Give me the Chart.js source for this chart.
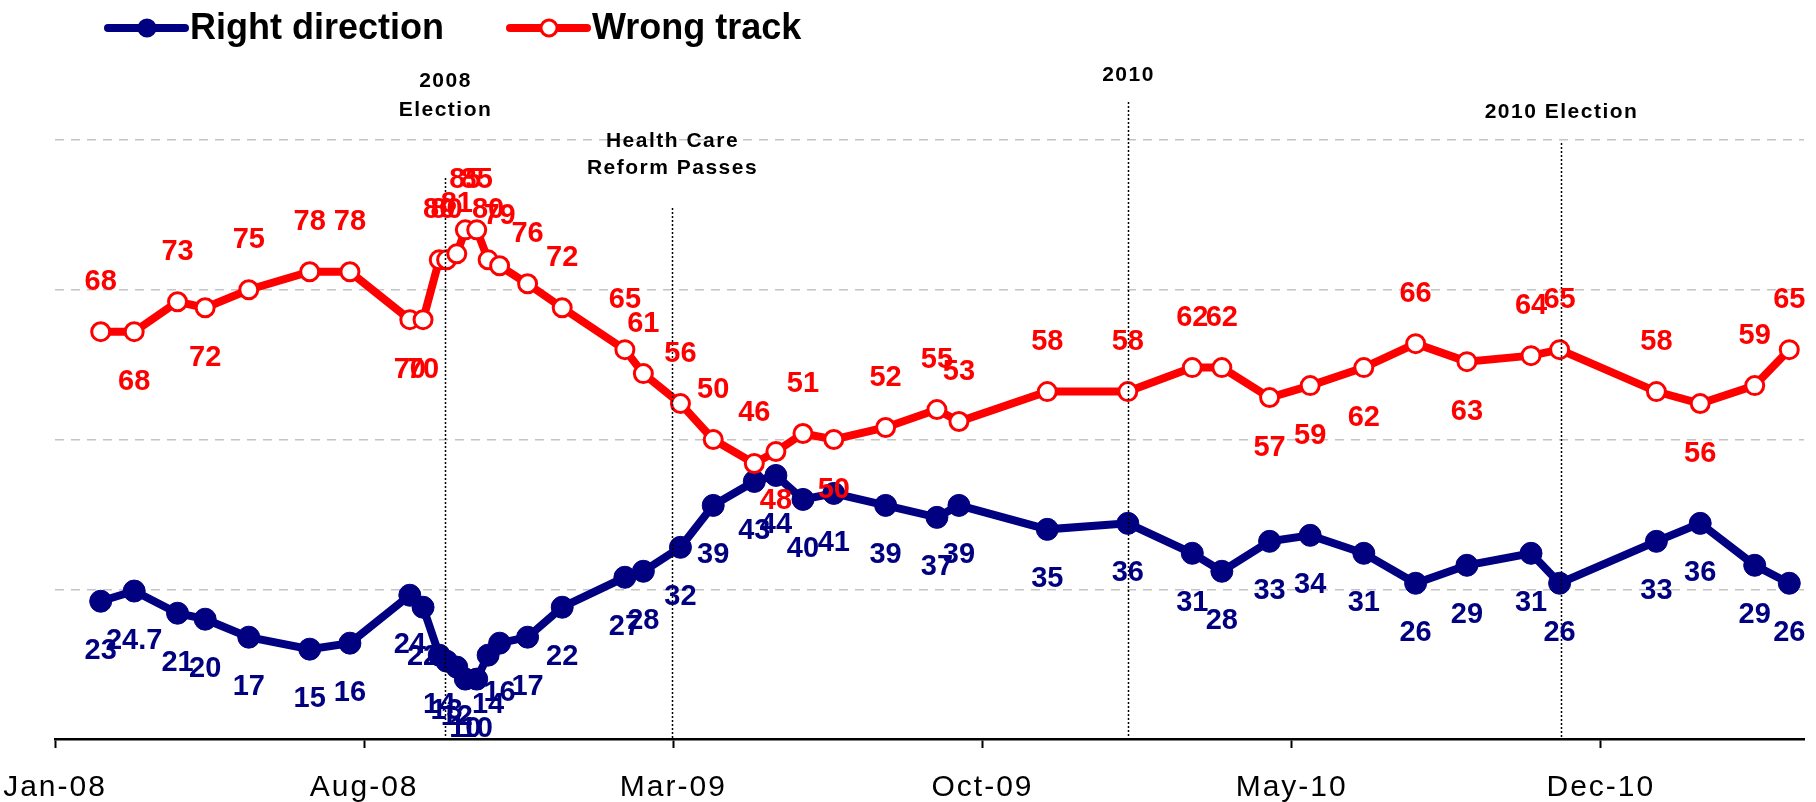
<!DOCTYPE html>
<html>
<head>
<meta charset="utf-8">
<script src="https://cdn.jsdelivr.net/npm/chart.js@4.4.0/dist/chart.umd.min.js"></script>
<style>
  html, body { margin: 0; padding: 0; background: #fff; }
</style>
</head>
<body>
<canvas id="trackChart" width="1816" height="802"></canvas>
<script>
// poll dates and results
const pollDates = [
    '2008-02-02', '2008-02-24', '2008-03-25', '2008-04-13', '2008-05-13', '2008-06-24', '2008-07-22',
    '2008-09-02', '2008-09-11', '2008-09-22', '2008-09-27', '2008-10-04', '2008-10-10', '2008-10-18',
    '2008-10-26', '2008-11-03', '2008-11-22', '2008-12-16', '2009-01-29', '2009-02-10', '2009-03-06',
    '2009-03-29', '2009-04-26', '2009-05-11', '2009-05-30', '2009-06-20', '2009-07-26', '2009-08-31',
    '2009-09-15', '2009-11-15', '2010-01-10', '2010-02-22', '2010-03-14', '2010-04-16', '2010-05-14',
    '2010-06-20', '2010-07-26', '2010-08-31', '2010-10-14', '2010-11-03', '2011-01-09', '2011-02-08',
    '2011-03-16', '2011-04-09'
];
const rightDirection = [
    23, 24.7, 21, 20, 17, 15, 16, 24, 22, 14, 13, 12, 10, 10, 14, 16, 17, 22, 27, 28, 32,
    39, 43, 44, 40, 41, 39, 37, 39, 35, 36, 31, 28, 33, 34, 31, 26, 29, 31, 26, 33, 36, 29, 26
];
const wrongTrack = [
    68, 68, 73, 72, 75, 78, 78, 70, 70, 80, 80, 81, 85, 85, 80, 79, 76, 72, 65, 61, 56,
    50, 46, 48, 51, 50, 52, 55, 53, 58, 58, 62, 62, 57, 59, 62, 66, 63, 64, 65, 58, 56, 59, 65
];
const tickLabels = ['Jan-08', 'Aug-08', 'Mar-09', 'Oct-09', 'May-10', 'Dec-10'];
const axisEnd = '2011-04-19';

const eventNames = [['2008', 'Election'], ['Health Care', 'Reform Passes'], ['2010'], ['2010 Election']];
const eventDates = ['2008-09-26', '2009-02-28', '2010-01-10', '2010-11-04'];

// where each event's text and dotted line sit (pixels)
const eventLayout = [
    { lineTop: 178, textY: [81, 110] },
    { lineTop: 208, textY: [141, 168] },
    { lineTop: 102, textY: [75] },
    { lineTop: 143, textY: [112] }
];
// red labels drawn under the point instead of above
const wrongLabelBelow = [1, 3, 7, 8, 23, 25, 33, 34, 35, 37, 41];

const NAVY = '#000080';
const RED = '#ff0000';
const FONT = 'Arial, "Liberation Sans", sans-serif';
const monthNames = ['Jan', 'Feb', 'Mar', 'Apr', 'May', 'Jun', 'Jul', 'Aug', 'Sep', 'Oct', 'Nov', 'Dec'];

// months since 1 Jan 2008
function toMonths(dateStr) {
    const [y, m, d] = dateStr.split('-').map(Number);
    const days = new Date(y, m, 0).getDate();
    return (y - 2008) * 12 + (m - 1) + (d - 1) / days;
}
function labelToMonths(label) {
    const [mon, yy] = label.split('-');
    return (Number(yy) - 8) * 12 + monthNames.indexOf(mon);
}

const tickValues = tickLabels.map(labelToMonths);
const xs = pollDates.map(toMonths);

// the axis labels in the original are spaced out a little
const tickSpacing = {
    id: 'tickSpacing',
    beforeDraw(chart) { chart.ctx.letterSpacing = '2px'; },
    beforeDatasetsDraw(chart) { chart.ctx.letterSpacing = '0px'; }
};

const valueLabels = {
    id: 'valueLabels',
    afterDatasetsDraw(chart) {
        const ctx = chart.ctx;
        ctx.save();
        ctx.font = 'bold 29px ' + FONT;
        ctx.textAlign = 'center';
        ctx.textBaseline = 'middle';
        chart.data.datasets.forEach((ds, di) => {
            const meta = chart.getDatasetMeta(di);
            meta.data.forEach((pt, i) => {
                let below = ds.label === 'Right direction' || wrongLabelBelow.includes(i);
                ctx.fillStyle = ds.borderColor;
                ctx.fillText(String(ds.data[i].y), pt.x, pt.y + (below ? 50 : -50));
            });
        });
        ctx.restore();
    }
};

const eventMarkers = {
    id: 'eventMarkers',
    afterDatasetsDraw(chart) {
        const ctx = chart.ctx;
        const xScale = chart.scales.x;
        const bottom = chart.chartArea.bottom;
        ctx.save();
        eventDates.forEach((d, i) => {
            const x = Math.round(xScale.getPixelForValue(toMonths(d))) + 0.5;
            const lay = eventLayout[i];
            ctx.strokeStyle = '#000';
            ctx.lineWidth = 1.5;
            ctx.setLineDash([2, 2]);
            ctx.beginPath();
            ctx.moveTo(x, lay.lineTop);
            ctx.lineTo(x, bottom);
            ctx.stroke();
            ctx.setLineDash([]);
            ctx.fillStyle = '#000';
            ctx.font = 'bold 21px ' + FONT;
            ctx.letterSpacing = '1.5px';
            ctx.textAlign = 'center';
            ctx.textBaseline = 'middle';
            eventNames[i].forEach((line, j) => {
                ctx.fillText(line, x, lay.textY[j]);
            });
        });
        ctx.restore();
    }
};

// legend drawn by hand: thick line with a marker in the middle
const topLegend = {
    id: 'topLegend',
    afterDraw(chart) {
        const ctx = chart.ctx;
        const items = [
            { text: 'Right direction', stroke: NAVY, fill: NAVY, x: 108 },
            { text: 'Wrong track', stroke: RED, fill: '#ffffff', x: 510 }
        ];
        const y = 28;
        ctx.save();
        items.forEach(it => {
            ctx.strokeStyle = it.stroke;
            ctx.lineWidth = 8;
            ctx.lineCap = 'round';
            ctx.beginPath();
            ctx.moveTo(it.x, y);
            ctx.lineTo(it.x + 77, y);
            ctx.stroke();
            ctx.beginPath();
            ctx.arc(it.x + 39, y, 8, 0, Math.PI * 2);
            ctx.fillStyle = it.fill;
            ctx.fill();
            ctx.lineWidth = 3;
            ctx.stroke();
            ctx.fillStyle = '#000';
            ctx.font = 'bold 36px ' + FONT;
            ctx.textAlign = 'left';
            ctx.textBaseline = 'middle';
            ctx.fillText(it.text, it.x + 82, y + 1);
        });
        ctx.restore();
    }
};

const ctx = document.getElementById('trackChart').getContext('2d');
new Chart(ctx, {
    type: 'line',
    data: {
        datasets: [
            {
                label: 'Right direction',
                data: xs.map((x, i) => ({ x: x, y: rightDirection[i] })),
                borderColor: NAVY,
                backgroundColor: NAVY,
                borderWidth: 8,
                pointRadius: 11,
                pointBorderWidth: 1,
                pointBackgroundColor: NAVY,
                pointBorderColor: NAVY,
                tension: 0,
                clip: false,
                order: 1
            },
            {
                label: 'Wrong track',
                data: xs.map((x, i) => ({ x: x, y: wrongTrack[i] })),
                borderColor: RED,
                backgroundColor: '#ffffff',
                borderWidth: 8,
                pointRadius: 9,
                pointBorderWidth: 3,
                pointBackgroundColor: '#ffffff',
                pointBorderColor: RED,
                tension: 0,
                clip: false,
                order: 0
            }
        ]
    },
    options: {
        responsive: false,
        animation: false,
        devicePixelRatio: 1,
        events: [],
        layout: { padding: { top: 140, left: 55, right: 8, bottom: -26 } },
        plugins: {
            legend: { display: false },
            tooltip: { enabled: false }
        },
        scales: {
            x: {
                type: 'linear',
                min: 0,
                max: toMonths(axisEnd),
                afterBuildTicks: scale => {
                    scale.ticks = tickValues.map(v => ({ value: v }));
                },
                afterFit: scale => {
                    // let the first label hang off the left edge like the original
                    scale.paddingLeft = 0;
                    scale.paddingRight = 0;
                },
                ticks: {
                    autoSkip: false,
                    maxRotation: 0,
                    padding: 22,
                    color: '#000',
                    font: { family: FONT, size: 30 },
                    callback: (value, index) => tickLabels[index]
                },
                grid: {
                    drawOnChartArea: false,
                    drawTicks: true,
                    tickLength: 9,
                    tickWidth: 2,
                    tickColor: '#000'
                },
                border: { color: '#000', width: 2.5 }
            },
            y: {
                min: 0,
                max: 100,
                afterFit: scale => { scale.width = 0; },
                ticks: { display: false, stepSize: 25 },
                grid: {
                    drawTicks: false,
                    lineWidth: 1.5,
                    color: c => (c.tick && c.tick.value === 0) ? 'rgba(0,0,0,0)' : '#c4c4c4'
                },
                border: { display: false, dash: [9, 7] }
            }
        }
    },
    plugins: [tickSpacing, eventMarkers, valueLabels, topLegend]
});
</script>
</body>
</html>
